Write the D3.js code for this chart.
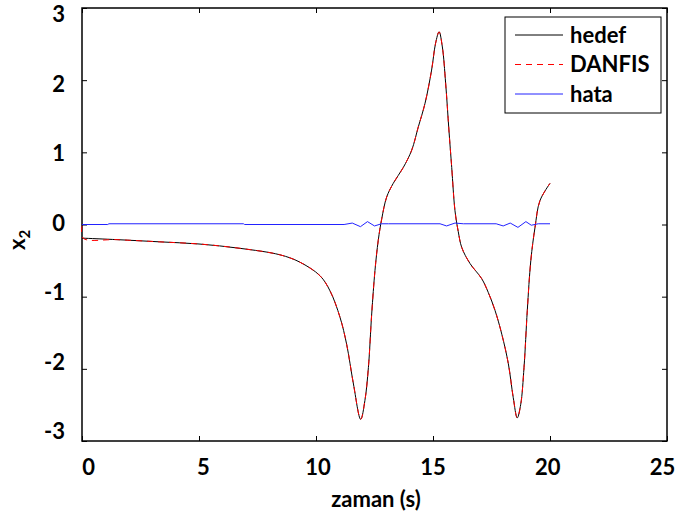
<!DOCTYPE html>
<html>
<head>
<meta charset="utf-8">
<script src="https://cdn.jsdelivr.net/npm/d3@7"></script>
<style>
  body { margin: 0; background: #fff; }
  text { font-family: Lato, "Open Sans", sans-serif; font-weight: 700; }
</style>
</head>
<body>
<svg id="chart" width="677" height="518"></svg>
<script>
// time samples + values
let timeT = [0, 0.05, 1.5, 3.3, 5, 6.75, 8.46, 9.3, 10.17, 10.6, 11.03, 11.31, 11.6, 11.91, 12.09, 12.24, 12.38, 12.52, 12.66, 12.81, 13.02, 13.3, 13.73, 14.09, 14.37, 14.66, 14.94, 15.11, 15.26, 15.4, 15.54, 15.68, 15.8, 15.94, 16.08, 16.23, 16.58, 17.08, 17.36, 17.65, 17.94, 18.22, 18.43, 18.6, 18.75, 18.89, 19.03, 19.18, 19.36, 19.57, 20];
let hedef = [-0.19, -0.19, -0.21, -0.24, -0.27, -0.33, -0.42, -0.52, -0.71, -0.92, -1.29, -1.66, -2.21, -2.70, -2.44, -1.98, -1.24, -0.64, -0.22, 0.08, 0.38, 0.57, 0.79, 1.03, 1.35, 1.68, 2.14, 2.51, 2.67, 2.46, 1.96, 1.31, 0.79, 0.19, -0.1, -0.32, -0.54, -0.75, -0.94, -1.19, -1.52, -1.93, -2.40, -2.68, -2.49, -1.98, -1.19, -0.5, -0.04, 0.33, 0.57];
let danfis = [-0.02, -0.19, -0.21, -0.24, -0.27, -0.33, -0.42, -0.52, -0.71, -0.92, -1.29, -1.66, -2.21, -2.70, -2.44, -1.98, -1.24, -0.64, -0.22, 0.08, 0.38, 0.57, 0.79, 1.03, 1.35, 1.68, 2.14, 2.51, 2.67, 2.46, 1.96, 1.31, 0.79, 0.19, -0.1, -0.32, -0.54, -0.75, -0.94, -1.19, -1.52, -1.93, -2.40, -2.68, -2.49, -1.98, -1.19, -0.5, -0.04, 0.33, 0.57];

let hataT = [0, 1.1, 1.15, 6.9, 6.95, 11.2, 11.55, 11.9, 12.2, 12.5, 12.8, 13.1, 15.3, 15.58, 15.94, 16.3, 17.7, 18.0, 18.3, 18.63, 18.97, 19.2, 19.5, 20];
let hata = [0, 0, 0.01, 0.01, 0, 0, 0.02, -0.03, 0.04, -0.02, 0.01, 0.01, 0.01, -0.02, 0.02, 0.01, 0.01, -0.02, 0.02, -0.04, 0.04, -0.01, 0.01, 0.01];

let xTicks = [0, 5, 10, 15, 20, 25];
let yTicks = [-3, -2, -1, 0, 1, 2, 3];
let legendNames = ["hedef", "DANFIS", "hata"];

let svg = d3.select("#chart");
let pLeft = 82, pRight = 667, pTop = 8, pBottom = 441;

let x = d3.scaleLinear().domain([0, 25]).range([pLeft, pRight]);
let y = d3.scaleLinear().domain([-3, 3]).range([pBottom, pTop]);
// tick labels sit a bit inside the tick marks in the original
let xLab = d3.scaleLinear().domain([0, 25]).range([88, 662]);
let yLab = d3.scaleLinear().domain([-3, 3]).range([431, 14]);

// axes, ticks pointing inward
let ax = svg.append("g").attr("transform", `translate(0,${pBottom})`)
    .call(d3.axisBottom(x).tickValues(xTicks).tickFormat(d => String(d))
        .tickSizeInner(-5).tickSizeOuter(0).tickPadding(18));
let ay = svg.append("g").attr("transform", `translate(${pLeft},0)`)
    .call(d3.axisLeft(y).tickValues(yTicks).tickFormat(d => String(d))
        .tickSizeInner(-5).tickSizeOuter(0).tickPadding(17));
svg.append("g").attr("transform", `translate(0,${pTop})`)
    .call(d3.axisTop(x).tickValues(xTicks).tickSizeInner(-5).tickSizeOuter(0).tickFormat(""));
svg.append("g").attr("transform", `translate(${pRight},0)`)
    .call(d3.axisRight(y).tickValues(yTicks).tickSizeInner(-5).tickSizeOuter(0).tickFormat(""));

svg.selectAll(".domain").remove();
svg.selectAll(".tick line").attr("stroke", "#000");

ax.selectAll("text")
    .attr("x", d => xLab(d) - x(d))
    .style("font-size", "22px").attr("fill", "#000");
ay.selectAll("text")
    .attr("dy", "0.35em")
    .attr("y", d => yLab(d) - y(d))
    .style("font-size", "22px").attr("fill", "#000");

// frame
svg.append("rect")
    .attr("x", pLeft).attr("y", pTop)
    .attr("width", pRight - pLeft).attr("height", pBottom - pTop)
    .attr("fill", "none").attr("stroke", "#000").attr("stroke-width", 1.5);

let line = (tt, curve) => d3.line()
    .x((d, i) => x(tt[i]))
    .y(d => y(d))
    .curve(curve);

svg.append("path").datum(hedef)
    .attr("d", line(timeT, d3.curveCatmullRom))
    .attr("fill", "none").attr("stroke", "#000").attr("stroke-width", 1);
svg.append("path").datum(danfis)
    .attr("d", line(timeT, d3.curveCatmullRom))
    .attr("fill", "none").attr("stroke", "#ff0000").attr("stroke-width", 1)
    .attr("stroke-dasharray", "6,5");
svg.append("path").datum(hata)
    .attr("d", line(hataT, d3.curveLinear))
    .attr("fill", "none").attr("stroke", "#2222ff").attr("stroke-width", 1);

// axis titles
svg.append("text")
    .attr("x", 376).attr("y", 507)
    .attr("text-anchor", "middle")
    .style("font-size", "22px")
    .text("zaman (s)");

let yt = svg.append("text")
    .attr("transform", "translate(25,240) rotate(-90)")
    .attr("text-anchor", "middle")
    .style("font-size", "22px");
yt.append("tspan").text("x");
yt.append("tspan").attr("dy", 5).style("font-size", "15px").text("2");

// legend
let lg = svg.append("g");
lg.append("rect")
    .attr("x", 505).attr("y", 17).attr("width", 156).attr("height", 96)
    .attr("fill", "#fff").attr("stroke", "#000").attr("stroke-width", 1);

let styles = [
    { stroke: "#000", dash: null },
    { stroke: "#ff0000", dash: "6,5" },
    { stroke: "#2222ff", dash: null }
];

let rows = lg.selectAll(".row")
    .data(legendNames)
    .enter()
    .append("g")
    .attr("class", "row")
    .attr("transform", (d, i) => `translate(0, ${35 + i * 29.5})`);

rows.append("line")
    .attr("x1", 515).attr("x2", 563)
    .attr("stroke", (d, i) => styles[i].stroke)
    .attr("stroke-dasharray", (d, i) => styles[i].dash)
    .attr("stroke-width", 1);

rows.append("text")
    .attr("x", 570).attr("dy", "0.35em")
    .style("font-size", "22px")
    .text(d => d);
</script>
</body>
</html>
